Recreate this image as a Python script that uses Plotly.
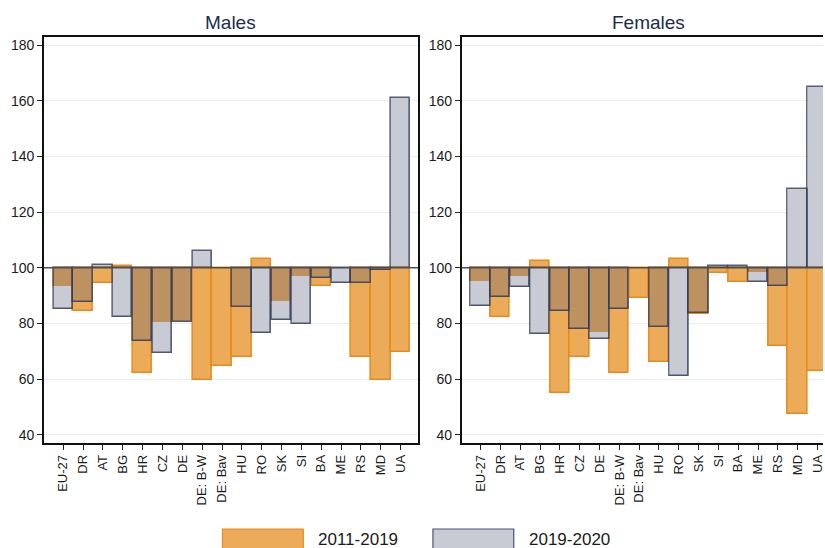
import plotly.graph_objects as go
from plotly.subplots import make_subplots

categories = ["EU-27", "DR", "AT", "BG", "HR", "CZ", "DE", "DE: B-W", "DE: Bav",
              "HU", "RO", "SK", "SI", "BA", "ME", "RS", "MD", "UA"]
males_2011_2019 = [93.4, 84.4, 94.7, 100.5, 62.1, 80.6, 80.8, 59.9, 64.9,
                   67.9, 103.2, 88.0, 97.2, 93.4, None, 67.9, 59.7, 69.8]
males_2019_2020 = [85.2, 87.6, 101.0, 82.3, 73.6, 69.4, 80.4, 106.1, None,
                   85.9, 76.5, 81.2, 79.7, 96.5, 94.5, 94.4, 99.2, 161.0]
females_2011_2019 = [95.4, 82.3, 96.9, 102.5, 55.2, 67.9, 77.0, 62.2, 89.1,
                     66.1, 103.2, 83.4, 98.2, 94.9, 98.4, 72.0, 47.5, 63.0]
females_2019_2020 = [86.2, 89.5, 93.0, 76.1, 84.4, 78.2, 74.4, 85.1, None,
                     78.6, 61.3, 83.7, 100.6, 100.6, 94.9, 93.4, 128.4, 164.9]
y_ticks = [40, 60, 80, 100, 120, 140, 160, 180]
legend_labels = ["2011-2019", "2019-2020"]
panel_titles = ["Males", "Females"]

ORANGE_FILL = "#ECAB58"
ORANGE_LINE = "#E8891B"
GREY_FILL = "#C8CBD4"
GREY_LINE = "rgba(45,55,85,0.8)"
BROWN_FILL = "#BD9260"
FONT = "Liberation Sans, Arial, sans-serif"
BASE = 100

FW, FH = 825, 548


def px(x):
    return x / FW


def py(y):
    return (FH - y) / FH


def rel(vals):
    return [None if v is None else v - BASE for v in vals]


def overlap(a, b):
    out = []
    for x, y in zip(a, b):
        if x is None or y is None:
            out.append(None)
            continue
        dx, dy = x - BASE, y - BASE
        if dx * dy > 0:
            out.append(dx if abs(dx) < abs(dy) else dy)
        else:
            out.append(None)
    return out


fig = make_subplots(rows=1, cols=2)

W = 0.97
for col, (orng, grey) in enumerate([(males_2011_2019, males_2019_2020),
                                     (females_2011_2019, females_2019_2020)], start=1):
    fig.add_trace(go.Bar(x=categories, y=rel(grey), base=BASE, width=W,
                         marker=dict(color=GREY_FILL, line=dict(width=0)),
                         showlegend=False), row=1, col=col)
    fig.add_trace(go.Bar(x=categories, y=rel(orng), base=BASE, width=W,
                         marker=dict(color=ORANGE_FILL, line=dict(color=ORANGE_LINE, width=1.5)),
                         showlegend=False), row=1, col=col)
    fig.add_trace(go.Bar(x=categories, y=overlap(orng, grey), base=BASE, width=W,
                         marker=dict(color=BROWN_FILL, line=dict(width=0)),
                         showlegend=False), row=1, col=col)
    fig.add_trace(go.Bar(x=categories, y=rel(grey), base=BASE, width=W,
                         marker=dict(color="rgba(0,0,0,0)", line=dict(color=GREY_LINE, width=1.5)),
                         showlegend=False), row=1, col=col)

fig.update_layout(
    width=FW, height=FH,
    margin=dict(l=0, r=0, t=0, b=0),
    paper_bgcolor="white", plot_bgcolor="white",
    barmode="overlay", bargap=0,
    font=dict(family=FONT, color="#1a1a1a"),
)

xcommon = dict(type="category", tickmode="array", tickvals=categories, ticktext=categories,
               tickangle=-90, ticks="outside", ticklen=5, tickwidth=1, tickcolor="#222",
               showline=True, linecolor="#111", linewidth=1.5, showgrid=False,
               tickfont=dict(size=13, family=FONT, color="#1a1a1a"))
ycommon = dict(range=[37.1, 182.9], tickmode="array", tickvals=y_ticks,
               ticks="outside", ticklen=5, tickwidth=1, tickcolor="#222",
               showline=True, linecolor="#111", linewidth=1.5, showgrid=True,
               gridcolor="#E6EEEF", gridwidth=1, zeroline=False,
               tickfont=dict(size=14, family=FONT, color="#1a1a1a"),
               domain=[py(443), py(37)])

fig.update_xaxes(**xcommon, mirror=True, range=[-0.97, 17.87], domain=[px(44), px(419)], row=1, col=1)
fig.update_xaxes(**xcommon, mirror=True, range=[-0.96, 17.28], domain=[px(462.7), 1.0], row=1, col=2)
fig.update_yaxes(**ycommon, mirror=True, row=1, col=1)
fig.update_yaxes(**ycommon, mirror=False, row=1, col=2)

for xr, yr in [("x", "y"), ("x2", "y2")]:
    fig.add_shape(type="line", xref=xr + " domain", yref=yr, x0=0, x1=1, y0=BASE, y1=BASE,
                  line=dict(color="#4d4d4d", width=1.5), layer="above")

for title, cx in zip(panel_titles, [231.5, 650.2]):
    fig.add_annotation(text=title, xref="paper", yref="paper", x=px(cx), y=py(23),
                       showarrow=False, xanchor="center", yanchor="middle",
                       font=dict(size=19, family=FONT, color="#1E2B50"))

# legend drawn manually (large swatches as in the reference)
for label, fill, line, bx0, tx in [(legend_labels[0], ORANGE_FILL, ORANGE_LINE, 223, 317),
                                   (legend_labels[1], GREY_FILL, "#4A5575", 434, 528)]:
    fig.add_shape(type="rect", xref="paper", yref="paper",
                  x0=px(bx0), x1=px(bx0 + 81), y0=py(529), y1=-0.05,
                  fillcolor=fill, line=dict(color=line, width=1.2))
    fig.add_annotation(text=label, xref="paper", yref="paper", x=px(tx), y=py(539),
                       showarrow=False, xanchor="left", yanchor="middle",
                       font=dict(size=17, family=FONT, color="#1a1a1a"))

fig.write_html("out.html",
               config={"displayModeBar": False},
               post_script="document.body.style.margin='0px';document.body.style.overflow='hidden';")
